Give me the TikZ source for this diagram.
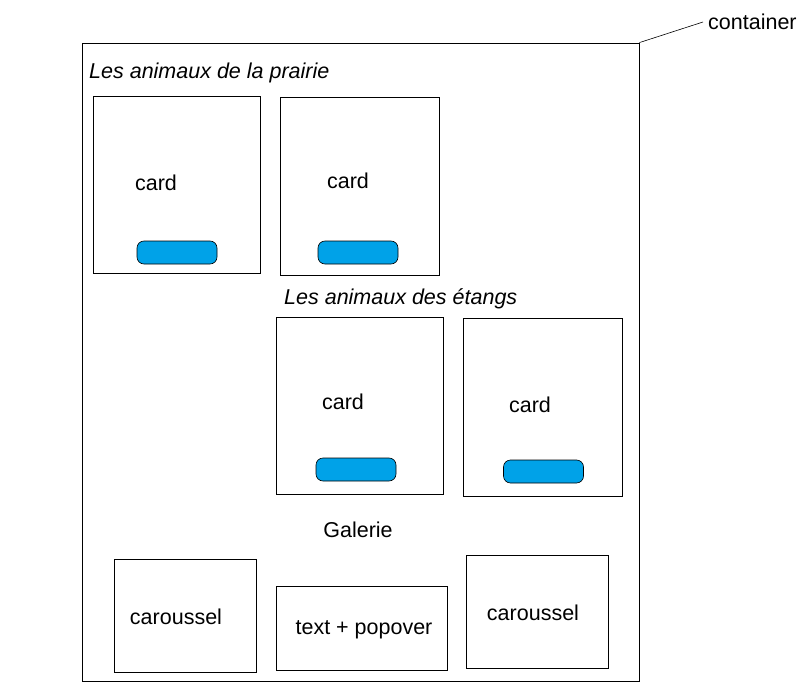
\documentclass[tikz,border=0pt]{standalone}
\usepackage{fontspec}
\setmainfont{Liberation Sans}
\definecolor{btnblue}{RGB}{0,162,232}
\tikzset{
  boite/.style={draw, line width=0.8pt, inner sep=0pt},
  bouton/.style={draw, line width=0.6pt, fill=btnblue, rounded corners=7pt, inner sep=0pt, minimum width=80, minimum height=23},
  txt/.style={inner sep=0pt, font=\fontsize{21.5}{25}\selectfont},
  titre/.style={txt, anchor=west, font=\fontsize{21.5}{25}\selectfont\itshape}
}
\begin{document}
\begin{tikzpicture}[x=1pt,y=-1pt]
  \useasboundingbox (0,0) rectangle (812,685);
  %container
  \node[boite, minimum width=557, minimum height=638] (cont) at (360.5,362) {};
  \node[txt, anchor=west] (lcont) at (708,22) {container};
  \draw[line width=0.6pt] (cont.north east) -- ([xshift=-5pt]lcont.west);
  %prairie
  \node[titre] (tprairie) at (89,72.5) {Les animaux de la prairie};
  \node[boite, minimum width=167, minimum height=177] (c1) at (176.5,184.5) {};
  \node[boite, minimum width=159, minimum height=178] (c2) at (359.5,186) {};
  \node[txt] (l1) at (156,183) {card};
  \node[txt] (l2) at (348,181) {card};
  \node[bouton] (b1) at (177,252.5) {};
  \node[bouton] (b2) at (358,252.5) {};
  %etangs
  \node[titre] (tetangs) at (284,298.5) {Les animaux des étangs};
  \node[boite, minimum width=167, minimum height=177] (c3) at (359.5,405.5) {};
  \node[boite, minimum width=159, minimum height=178] (c4) at (542.5,407) {};
  \node[txt] (l3) at (343,402) {card};
  \node[txt] (l4) at (530,405) {card};
  \node[bouton] (b3) at (356,469.5) {};
  \node[bouton] (b4) at (543.5,471.5) {};
  %galerie
  \node[txt] (tgalerie) at (358,530) {Galerie};
  \node[boite, minimum width=142, minimum height=113] (g1) at (185,615.5) {};
  \node[boite, minimum width=171, minimum height=84] (g2) at (361.5,628) {};
  \node[boite, minimum width=142, minimum height=113] (g3) at (537,611.5) {};
  \node[txt] (lg1) at (176,617) {caroussel};
  \node[txt] (lg2) at (364,629.5) {text + popover};
  \node[txt] (lg3) at (533,613) {caroussel};
\end{tikzpicture}
\end{document}
